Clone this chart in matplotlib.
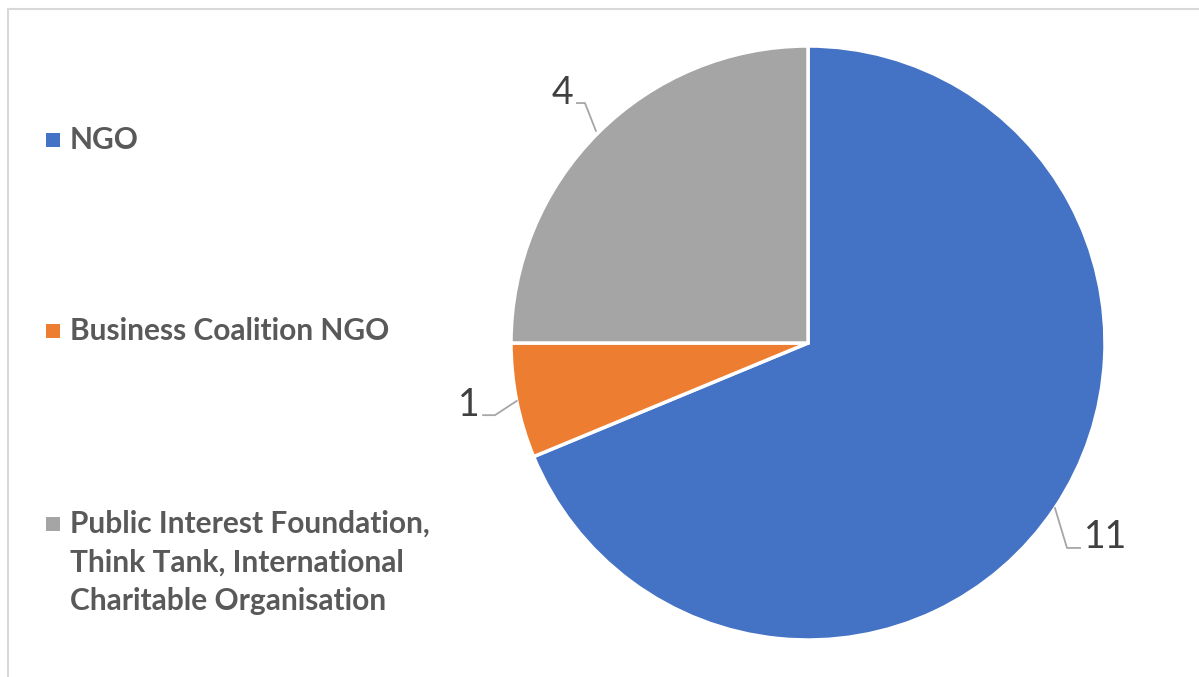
import matplotlib
matplotlib.use("Agg")
import matplotlib.pyplot as plt
import numpy as np
from matplotlib.lines import Line2D
from matplotlib.patches import Rectangle

categories = [
    "NGO",
    "Business Coalition NGO",
    "Public Interest Foundation,\nThink Tank, International\nCharitable Organisation",
]
values = [11, 1, 4]
colors = ["#4472C4", "#ED7D31", "#A5A5A5"]

W, H = 1199, 677
fig = plt.figure(figsize=(W / 100, H / 100), dpi=100)
fig.patch.set_facecolor("white")


def px(x, y):
    """Pixel position (top-left origin) to figure fraction."""
    return x / W, 1 - y / H


# chart-area frame, cut off at the right and bottom
fig.add_artist(Line2D([7.5 / W, 7.5 / W], [0, 1 - 9 / H], color="#D9D9D9", lw=1.5,
                      transform=fig.transFigure))
fig.add_artist(Line2D([7.5 / W, 1], [1 - 9 / H, 1 - 9 / H], color="#D9D9D9", lw=1.5,
                      transform=fig.transFigure))

# pie, centre (808, 343) px, radius 297 px
cx, cy, r = 808, 343, 297
ax = fig.add_axes([(cx - r) / W, (H - cy - r) / H, 2 * r / W, 2 * r / H])
wedges, _ = ax.pie(values, colors=colors, startangle=90, counterclock=False,
                   radius=1.0, wedgeprops=dict(edgecolor="white", linewidth=2.5))
ax.set_xlim(-1, 1)
ax.set_ylim(-1, 1)
ax.set_aspect("equal")
ax.axis("off")

# data labels with elbow leader lines
label_font = dict(family=["Lato", "DejaVu Sans"], fontsize=27, color="#404040")
leader = dict(color="#A6A6A6", lw=1.3, clip_on=False)
for w, v in zip(wedges, values):
    mid = np.deg2rad((w.theta1 + w.theta2) / 2)
    x0, y0 = np.cos(mid), np.sin(mid)
    if v == 4:
        pts = [(x0 * 1.01, y0 * 1.01), (-0.751, 0.808), (-0.778, 0.808)]
        tx, ty, ha = -0.79, 0.842, "right"
    elif v == 1:
        pts = [(x0, y0), (-1.054, -0.243), (-1.094, -0.243)]
        tx, ty, ha = -1.105, -0.21, "right"
    else:
        pts = [(x0, y0), (0.872, -0.69), (0.916, -0.69)]
        tx, ty, ha = 0.93, -0.652, "left"
    xs, ys = zip(*pts)
    ax.add_line(Line2D(xs, ys, **leader))
    ax.text(tx, ty, str(v), ha=ha, va="center", clip_on=False, **label_font)

# legend: square marker plus bold text, one baseline per text line
legend_font = dict(family=["Lato", "DejaVu Sans"], fontsize=21.5, fontweight="bold",
                   color="#595959")
legend_baseline = [149, 340, 533]
line_step = 38.5
for cat, col, base in zip(categories, colors, legend_baseline):
    fig.add_artist(Rectangle(px(46, base - 2), 14 / W, 14 / H, facecolor=col,
                             edgecolor="none", transform=fig.transFigure))
    for i, line in enumerate(cat.split("\n")):
        fx, fy = px(70, base + i * line_step)
        fig.text(fx, fy, line, ha="left", va="baseline", **legend_font)

fig.savefig("out.png", dpi=100, facecolor="white")
